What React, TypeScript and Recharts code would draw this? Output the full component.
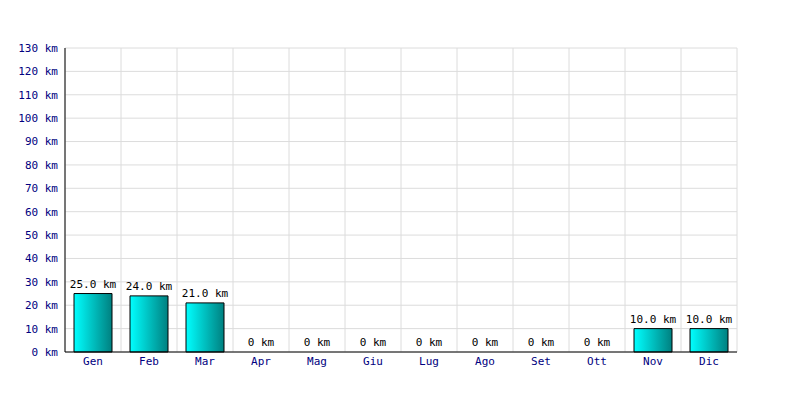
import { BarChart, Bar, XAxis, YAxis, CartesianGrid, LabelList, Rectangle } from "recharts";

const MONTHS = ["Gen", "Feb", "Mar", "Apr", "Mag", "Giu", "Lug", "Ago", "Set", "Ott", "Nov", "Dic"];
const KM = [25, 24, 21, 0, 0, 0, 0, 0, 0, 0, 10, 10];
const Y_TICKS = [0, 10, 20, 30, 40, 50, 60, 70, 80, 90, 100, 110, 120, 130];

const FONT = "'DejaVu Sans Mono', monospace";
const NAVY = "#000080";

const data = MONTHS.map((m, i) => ({ month: m, km: KM[i] }));

function formatKm(v: number): string {
  return v === 0 ? "0 km" : `${v.toFixed(1)} km`;
}

// vertical grid lines sit on category boundaries
function boundaryLines({ offset }: any): number[] {
  const step = offset.width / MONTHS.length;
  return Array.from({ length: MONTHS.length + 1 }, (_, i) => offset.left + i * step);
}

// zero months keep their slot (for the label) but draw no rectangle
function BarShape(props: any) {
  if (!props.km) return <g />;
  return <Rectangle {...props} />;
}

function ValueLabel(props: any) {
  const { x, y, width, height, value } = props;
  const top = Number(value) === 0 ? Number(y) + Number(height) : Number(y);
  return (
    <text
      x={Number(x) + Number(width) / 2}
      y={top - 6}
      textAnchor="middle"
      fill="#000"
      fontSize={11}
      fontFamily={FONT}
    >
      {formatKm(Number(value))}
    </text>
  );
}

export default function App() {
  return (
    <div style={{ position: "absolute", left: 0, top: 0, width: 800, height: 400, background: "#fff" }}>
      <BarChart
        width={800}
        height={400}
        data={data}
        margin={{ top: 48, right: 63, bottom: 0, left: 0 }}
        barCategoryGap={9}
      >
        <defs>
          <linearGradient id="barFill" x1="0" y1="0" x2="1" y2="0">
            <stop offset="0%" stopColor="#00ffff" />
            <stop offset="100%" stopColor="#008080" />
          </linearGradient>
        </defs>
        <CartesianGrid
          stroke="#dcdcdc"
          strokeWidth={1}
          verticalCoordinatesGenerator={boundaryLines}
        />
        <XAxis
          dataKey="month"
          height={48}
          axisLine={{ stroke: "#000", strokeWidth: 1 }}
          tickLine={false}
          tickSize={0}
          tick={{ fill: NAVY, fontSize: 11, fontFamily: FONT }}
          tickMargin={5}
          interval={0}
        />
        <YAxis
          width={65}
          domain={[0, 130]}
          ticks={Y_TICKS}
          axisLine={{ stroke: "#000", strokeWidth: 1 }}
          tickLine={false}
          tickSize={0}
          tick={{ fill: NAVY, fontSize: 11, fontFamily: FONT }}
          tickMargin={7}
          tickFormatter={(v: number) => `${v} km`}
        />
        <Bar
          dataKey="km"
          fill="url(#barFill)"
          stroke="#000"
          strokeWidth={1}
          minPointSize={1}
          shape={BarShape}
          isAnimationActive={false}
        >
          <LabelList dataKey="km" content={ValueLabel} />
        </Bar>
      </BarChart>
    </div>
  );
}
